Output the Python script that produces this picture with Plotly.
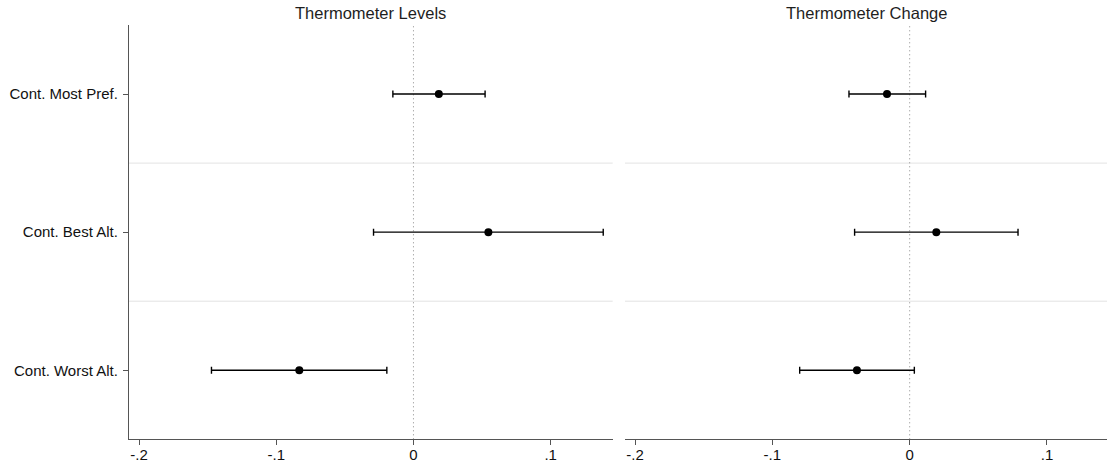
import plotly.graph_objects as go

# Coefficient estimates with 95% confidence bounds
labels = ["Cont. Most Pref.", "Cont. Best Alt.", "Cont. Worst Alt."]

levels_est = [0.0185, 0.0546, -0.0832]
levels_lo = [-0.0150, -0.0291, -0.1472]
levels_hi = [0.0522, 0.1383, -0.0194]

change_est = [-0.0165, 0.0194, -0.0384]
change_lo = [-0.0442, -0.0401, -0.0801]
change_hi = [0.0116, 0.0789, 0.0034]

panel_titles = ["Thermometer Levels", "Thermometer Change"]
x_tickvals = [-0.2, -0.1, 0, 0.1]
x_ticktext = ["-.2", "-.1", "0", ".1"]

W, H = 1107, 468
FONT = "Liberation Sans, Arial, sans-serif"
AXIS_COLOR = "#555555"

fig = go.Figure()

panels = [
    (levels_est, levels_lo, levels_hi, "x", "y"),
    (change_est, change_lo, change_hi, "x2", "y2"),
]
for est, lo, hi, xa, ya in panels:
    plus = [h - e for e, h in zip(est, hi)]
    minus = [e - l for e, l in zip(est, lo)]
    fig.add_trace(go.Scatter(
        x=est, y=labels, mode="markers", xaxis=xa, yaxis=ya,
        marker=dict(color="black", size=8),
        error_x=dict(type="data", symmetric=False, array=plus, arrayminus=minus,
                     color="black", thickness=1.4, width=3.5),
        showlegend=False, hoverinfo="skip",
    ))

x_common = dict(
    tickvals=x_tickvals, ticktext=x_ticktext, showgrid=False, zeroline=False,
    showline=True, linecolor=AXIS_COLOR, linewidth=1.2,
    ticks="outside", ticklen=5, tickcolor=AXIS_COLOR, tickwidth=1.2,
    ticklabelstandoff=-3,
    tickfont=dict(family=FONT, size=15, color="#111111"),
)
y_common = dict(
    type="category", categoryorder="array", categoryarray=labels,
    range=[2.5, -0.5], showgrid=False, zeroline=False,
    domain=[1 - 439.3 / H, 1 - 25 / H],
)

fig.update_layout(
    width=W, height=H,
    margin=dict(l=0, r=0, t=0, b=0),
    paper_bgcolor="white", plot_bgcolor="white",
    xaxis=dict(domain=[129 / W, 612.7 / W], range=[-0.2073, 0.1452],
               anchor="y", **x_common),
    xaxis2=dict(domain=[625 / W, 1.0], range=[-0.2073, 0.1437],
                anchor="y2", **x_common),
    yaxis=dict(anchor="x", showline=True, linecolor=AXIS_COLOR, linewidth=1.2,
               ticks="outside", ticklen=5, tickcolor=AXIS_COLOR, tickwidth=1.2,
               ticklabelstandoff=2,
               tickfont=dict(family=FONT, size=15, color="#111111"),
               **y_common),
    yaxis2=dict(anchor="x2", showline=False, ticks="", showticklabels=False,
                **y_common),
)

# Row separators and dotted reference line at zero in each panel
for xa, ya in [("x", "y"), ("x2", "y2")]:
    for yv in [0.5, 1.5]:
        fig.add_shape(type="line", xref=f"{xa} domain", yref=ya,
                      x0=0, x1=1, y0=yv, y1=yv,
                      line=dict(color="#e3e3e3", width=1), layer="below")
    fig.add_shape(type="line", xref=xa, yref=f"{ya} domain",
                  x0=0, x1=0, y0=0, y1=1,
                  line=dict(color="#8a8a8a", width=1, dash="1px,3px"), layer="below")

# Panel titles
for xa, title in zip(["x", "x2"], panel_titles):
    fig.add_annotation(text=title, xref=f"{xa} domain", yref="paper",
                       x=0.5, y=1 - 12.5 / H, xanchor="center", yanchor="middle",
                       showarrow=False,
                       font=dict(family=FONT, size=16.5, color="#1e1e1e"))

fig.write_html("out.html")
